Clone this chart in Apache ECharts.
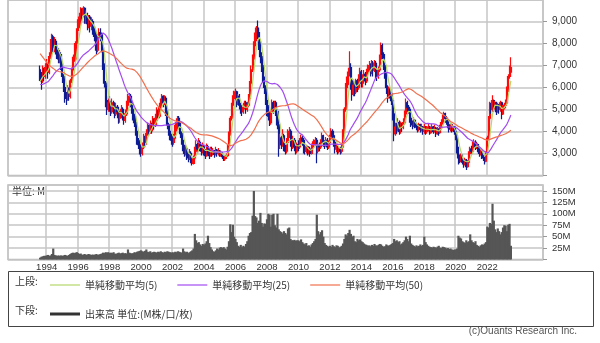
<!DOCTYPE html>
<html><head><meta charset="utf-8">
<script src="https://cdn.jsdelivr.net/npm/echarts@6/dist/echarts.min.js"></script>
<style>html,body{margin:0;padding:0;background:#fff}#c{width:600px;height:343px}</style>
</head><body><div id="c"></div>
<script>
// Monthly candles, Aug 1993 .. Jul 2023 : [open, close, low, high]
const candles = [
// 1993 Aug-Dec
[6800,6600,6300,7000],[6600,6300,5900,6700],[6300,6800,6200,7000],[6800,6500,6300,6900],[6500,6900,6400,7100],
// 1994
[6900,7000,6700,7300],[7000,6700,6400,7100],[6700,7400,6600,7600],[7400,8000,7300,8200],[8000,8300,7800,8450],[8300,7800,7600,8400],
[7800,8100,7600,8300],[8100,7700,7500,8200],[7700,7600,7300,7900],[7600,7300,7100,7800],[7300,7500,7100,7700],[7500,7000,6800,7600],
// 1995
[7000,6500,6200,7100],[6500,6000,5800,6600],[6000,5600,5300,6100],[5600,5500,5200,5800],[5500,5900,5400,6100],[5900,5600,5400,6000],
[5600,6300,5500,6400],[6300,6800,6200,6900],[6800,7200,6700,7400],[7200,7300,6900,7500],[7300,8000,7200,8100],[8000,8600,7900,8700],
// 1996
[8600,8800,8400,9100],[8800,9200,8700,9400],[9200,9500,9000,9650],[9500,9300,9000,9600],[9300,9600,9200,9700],[9600,9100,8900,9650],
[9100,9300,8900,9500],[9300,8900,8600,9400],[8900,9200,8700,9300],[9200,8800,8500,9300],[8800,9000,8600,9200],[9000,8700,8400,9100],
// 1997
[8700,8600,8300,8900],[8600,8400,8100,8800],[8400,7700,7500,8500],[7700,8300,7600,8400],[8300,8500,8100,8700],[8500,8400,8100,8700],
[8400,7800,7600,8500],[7800,7000,6800,7900],[7000,6200,6000,7100],[6200,5400,5100,6300],[5400,5000,4750,5600],[5000,5300,4900,5500],
// 1998
[5300,5200,4900,5600],[5200,4900,4700,5400],[4900,5300,4800,5500],[5300,5000,4800,5400],[5000,4800,4600,5100],[4800,5100,4700,5300],
[5100,4900,4600,5200],[4900,4600,4350,5000],[4600,4700,4400,4900],[4700,5000,4600,5200],[5000,4700,4500,5100],[4700,4500,4300,4800],
// 1999
[4500,4800,4400,5000],[4800,5200,4700,5400],[5200,5500,5100,5700],[5500,5600,5300,5750],[5600,5300,5100,5700],[5300,5000,4800,5400],
[5000,4700,4500,5100],[4700,4400,4200,4800],[4400,4000,3800,4500],[4000,3600,3400,4100],[3600,3400,3200,3700],[3400,3100,2950,3500],
// 2000
[3100,3000,2850,3300],[3000,3300,2900,3500],[3300,3700,3200,3900],[3700,3500,3300,3800],[3500,3900,3400,4100],[3900,4200,3800,4400],
[4200,4000,3800,4300],[4000,4300,3900,4500],[4300,4100,3900,4400],[4100,4500,4000,4700],[4500,4300,4100,4600],[4300,4600,4200,4800],
// 2001
[4600,4900,4500,5100],[4900,4700,4500,5000],[4700,5100,4600,5300],[5100,5400,5000,5500],[5400,5600,5300,5700],[5600,5300,5100,5650],
[5300,5500,5200,5650],[5500,4900,4700,5600],[4900,4300,4100,5000],[4300,4000,3800,4400],[4000,3800,3600,4100],[3800,3600,3400,3900],
// 2002
[3600,3500,3300,3800],[3500,3700,3400,3900],[3700,4100,3600,4300],[4100,4400,4000,4600],[4400,4600,4300,4700],[4600,4300,4100,4700],
[4300,3900,3700,4400],[3900,3600,3400,4000],[3600,3300,3100,3700],[3300,3000,2850,3400],[3000,3200,2900,3400],[3200,2900,2700,3300],
// 2003
[2900,2800,2600,3000],[2800,3000,2700,3200],[3000,2700,2550,3100],[2700,2550,2450,2800],[2550,2800,2500,2900],[2800,3100,2700,3300],
[3100,3400,3000,3600],[3400,3200,3000,3500],[3200,3500,3100,3700],[3500,3300,3100,3600],[3300,3100,2900,3400],[3100,3300,3000,3500],
// 2004
[3300,3100,2900,3400],[3100,2900,2750,3200],[2900,3300,2850,3450],[3300,3100,2950,3400],[3100,2900,2750,3200],[2900,3200,2850,3300],
[3200,3000,2850,3300],[3000,3100,2900,3250],[3100,2950,2800,3150],[2950,3150,2900,3300],[3150,3000,2850,3200],[3000,3100,2900,3250],
// 2005
[3100,2950,2850,3150],[2950,3000,2850,3100],[3000,2850,2750,3050],[2850,2750,2650,2900],[2750,2800,2650,2900],[2800,2900,2750,3000],
[2900,3300,2850,3400],[3300,3900,3250,4000],[3900,4600,3800,4700],[4600,5200,4500,5300],[5200,5500,5000,5650],[5500,5700,5300,5850],
// 2006
[5700,5800,5400,5950],[5800,5300,5100,5850],[5300,5600,5200,5700],[5600,5200,5000,5700],[5200,5000,4800,5300],[5000,4900,4700,5100],
[4900,5100,4800,5300],[5100,5300,5000,5400],[5300,5000,4800,5400],[5000,5200,4900,5350],[5200,5500,5100,5700],[5500,6200,5400,6300],
// 2007
[6200,6800,6100,7000],[6800,7300,6700,7500],[7300,7900,7100,8100],[7900,8300,7700,8500],[8300,8700,8100,8800],[8700,8500,8200,9050],
[8500,8000,7700,8700],[8000,7400,7100,8100],[7400,7000,6700,7600],[7000,6400,6200,7100],[6400,6000,5700,6500],[6000,5400,5200,6100],
// 2008
[5400,5000,4700,5500],[5000,4700,4500,5200],[4700,4400,4250,4900],[4400,4900,4300,5000],[4900,5300,4800,5450],[5300,5000,4800,5400],
[5000,5300,4900,5400],[5300,4900,4700,5400],[4900,4300,4100,5000],[4300,3400,2850,4400],[3400,3700,3200,3900],[3700,3400,3200,3800],
// 2009
[3400,3800,3300,4100],[3800,3300,3100,3900],[3300,3100,2950,3400],[3100,3500,3000,3700],[3500,3900,3400,4100],[3900,4000,3700,4200],
[4000,3500,3300,4100],[3500,3300,3100,3600],[3300,3600,3200,3800],[3600,3300,3100,3700],[3300,3100,2950,3400],[3100,3400,3000,3500],
// 2010
[3400,3300,3100,3600],[3300,3500,3200,3700],[3500,3700,3400,3850],[3700,3600,3350,3800],[3600,3200,3000,3700],[3200,3100,2950,3300],
[3100,3300,3000,3400],[3300,3100,2900,3350],[3100,3200,2950,3300],[3200,3000,2850,3300],[3000,3300,2950,3450],[3300,3400,3200,3550],
// 2011
[3400,3500,3300,3650],[3500,3600,3350,3750],[3600,3100,2550,3700],[3100,3400,3000,3500],[3400,3300,3100,3500],[3300,3500,3200,3650],
[3500,3800,3400,3950],[3800,3500,3300,3850],[3500,3400,3200,3600],[3400,3600,3300,3750],[3600,3300,3150,3700],[3300,3500,3200,3600],
// 2012
[3500,3700,3400,3850],[3700,4000,3600,4150],[4000,3800,3600,4100],[3800,3500,3300,3850],[3500,3200,3000,3550],[3200,3300,3050,3450],
[3300,3100,2950,3350],[3100,3200,3000,3300],[3200,3100,2950,3300],[3100,3300,3000,3450],[3300,4000,3250,4100],[4000,5000,3900,5100],
// 2013
[5000,6000,4900,6200],[6000,6300,5800,6500],[6300,6700,6100,6900],[6700,6900,6500,7650],[6900,6300,5900,7100],[6300,5700,5400,6400],
[5700,6100,5600,6300],[6100,5800,5600,6200],[5800,6300,5700,6400],[6300,6000,5800,6400],[6000,6500,5900,6600],[6500,6700,6300,6900],
// 2014
[6700,6200,6000,6800],[6200,6400,6000,6600],[6400,6600,6300,6800],[6600,6300,6100,6700],[6300,6700,6200,6850],[6700,6900,6600,7050],
[6900,7000,6700,7200],[7000,6700,6500,7100],[6700,7100,6600,7250],[7100,6800,6500,7200],[6800,7100,6700,7250],[7100,6600,6400,7200],
// 2015
[6600,6500,6300,6800],[6500,6800,6400,6950],[6800,7300,6700,7500],[7300,7900,7200,8050],[7900,7500,7300,8000],[7500,7000,6800,7600],
[7000,6600,6400,7100],[6600,6000,5700,6700],[6000,5600,5300,6100],[5600,5900,5500,6050],[5900,5700,5500,6000],[5700,5400,5200,5800],
// 2016
[5400,4800,4500,5500],[4800,3900,3550,4900],[3900,4200,3800,4400],[4200,4100,3900,4400],[4100,4400,4000,4600],[4400,4000,3850,4500],
[4000,4300,3900,4450],[4300,4200,4000,4400],[4200,4400,4100,4600],[4400,4800,4300,4950],[4800,5300,4700,5500],[5300,5100,4900,5400],
// 2017
[5100,5000,4800,5200],[5000,4600,4400,5100],[4600,4400,4200,4700],[4400,4300,4100,4500],[4300,4500,4200,4650],[4500,4300,4150,4550],
[4300,4200,4050,4400],[4200,4100,3950,4300],[4100,4300,4000,4400],[4300,4100,3950,4350],[4100,4200,4000,4350],[4200,4000,3850,4250],
// 2018
[4000,4200,3900,4350],[4200,4000,3850,4250],[4000,4100,3900,4250],[4100,4200,4000,4350],[4200,3950,3850,4250],[3950,4100,3900,4200],
[4100,4200,4000,4350],[4200,4000,3900,4250],[4000,4150,3950,4300],[4150,3900,3750,4200],[3900,4100,3850,4200],[4100,3950,3800,4150],
// 2019
[3950,4200,3900,4300],[4200,4400,4100,4550],[4400,4600,4300,4750],[4600,4800,4500,4900],[4800,4600,4400,4850],[4600,4500,4300,4700],
[4500,4300,4150,4550],[4300,4100,3950,4350],[4100,4300,4000,4400],[4300,4100,3950,4350],[4100,4200,4000,4300],[4200,4000,3850,4250],
// 2020
[4000,3800,3600,4100],[3800,3200,3000,3900],[3200,2800,2500,3300],[2800,2700,2550,2950],[2700,2900,2600,3000],[2900,2600,2500,2950],
[2600,2500,2350,2700],[2500,2700,2450,2800],[2700,2400,2250,2750],[2400,2600,2350,2700],[2600,3000,2550,3100],[3000,3200,2900,3300],
// 2021
[3200,3100,2950,3350],[3100,3400,3000,3550],[3400,3500,3300,3650],[3500,3300,3150,3600],[3300,3400,3200,3500],[3400,3200,3050,3450],
[3200,3000,2850,3250],[3000,3100,2900,3200],[3100,2900,2750,3150],[2900,2800,2650,2950],[2800,2650,2500,2850],[2650,3000,2600,3100],
// 2022
[3000,3700,2950,3800],[3700,4600,3600,4700],[4600,5200,4500,5350],[5200,5000,4800,5300],[5000,5400,4900,5650],[5400,5100,4900,5450],
[5100,5300,5000,5400],[5300,4900,4750,5350],[4900,5200,4850,5300],[5200,5000,4800,5250],[5000,5300,4900,5400],[5300,4800,4550,5350],
// 2023 Jan-Jul
[4800,5100,4750,5200],[5100,5200,5000,5300],[5200,5300,5050,5450],[5300,5900,5250,6050],[5900,6500,5800,6600],[6500,6900,6400,7000],
[6700,6900,6500,7380]
];

// Closes of the 49 months before Aug 1993 (only used to seed the moving averages)
const priorCloses = [
10200,10600,10900,10500,10800,10300,10700,10400,10100,10600,10500,10200,
8800,8200,7600,7900,7400,7200,7500,7300,7000,7600,7200,7100,6800,
6600,6300,6100,5900,6200,6000,5800,6100,6300,6000,5700,5900,
6200,6400,6100,5800,6000,6200,6300,6100,5900,6200,6400,6300
];

// Monthly volume (millions), Aug 1993 .. Jul 2023
const volumes = [
4,6,7,8,8,
9,10,8,9,12,24,10,9,8,9,8,9,
8,9,10,9,8,10,12,14,15,14,15,16,
14,12,13,10,11,12,10,11,12,11,10,11,
10,11,12,10,11,12,13,15,14,16,15,16,
14,15,14,16,13,12,14,15,13,14,15,13,
14,13,22,15,14,13,14,16,15,17,18,19,
20,18,17,19,22,17,16,18,15,16,17,16,
15,17,16,18,16,15,17,16,18,17,16,15,
16,15,17,16,18,17,16,15,24,18,16,17,
14,16,18,20,24,56,42,36,38,33,30,34,
32,35,40,52,36,27,22,18,17,20,24,22,
26,27,25,27,24,22,28,40,77,60,76,50,
45,38,30,28,32,27,30,28,34,40,52,58,
60,96,150,95,92,80,85,102,80,72,79,78,
88,100,98,72,98,100,75,70,100,66,62,60,
57,62,58,55,68,70,45,42,42,43,41,42,
42,40,44,38,35,33,36,30,31,28,33,36,
40,45,98,62,55,60,64,50,36,32,30,28,
30,28,32,29,27,31,30,26,28,30,35,45,
55,52,58,65,56,50,52,40,38,45,42,44,
40,38,35,33,32,30,31,29,32,30,34,31,
30,32,34,33,30,28,29,33,31,30,32,34,
36,45,40,42,38,40,33,35,38,42,50,45,
40,52,35,32,30,28,31,29,30,33,30,32,
50,38,33,30,28,27,26,28,27,25,28,30,
26,25,28,27,26,24,25,23,24,22,21,22,
22,24,52,48,46,40,38,36,42,38,40,55,
42,38,36,40,32,30,28,31,33,32,35,38,
72,70,80,78,122,85,66,60,68,62,55,60,
70,75,74,62,76,78,30
];

const yearTicks = ['1994','1996','1998','2000','2002','2004','2006','2008','2010','2012','2014','2016','2018','2020','2022'];
const priceTicks = [3000,4000,5000,6000,7000,8000,9000];
const volumeTicks = [25,50,75,100,125,150];
const maPeriods = [5,25,50];
const maNames = ['単純移動平均(5)','単純移動平均(25)','単純移動平均(50)'];
const volumeName = '出来高 単位:(M株/口/枚)';

// Category axis: Aug 1991 .. Jul 2025 (data sits in Aug 1993 .. Jul 2023)
const categories = [];
for (let k = 0; k < 408; k++) {
  const y = 1991 + Math.floor((7 + k) / 12), m = (7 + k) % 12 + 1;
  categories.push(y + '-' + (m < 10 ? '0' + m : m));
}
const OFFSET = categories.indexOf('1993-08');
const isYearTick = (idx, v) => { const val = v || categories[idx]; return val.slice(5) === '01' && yearTicks.indexOf(val.slice(0,4)) >= 0; };

const allCloses = priorCloses.concat(candles.map(c => c[1]));
const P = priorCloses.length;
function sma(n) {
  return candles.map((c, i) => {
    let s = 0; for (let j = P + i - n + 1; j <= P + i; j++) s += allCloses[j];
    return [i + OFFSET, Math.round(s / n)];
  });
}

const chart = echarts.init(document.getElementById('c'), null, {renderer: 'canvas'});
const gridLine = {show: true, lineStyle: {color: '#c6c6c6', width: 1.5}};
const fontF = '"Liberation Sans", Arial, sans-serif';
const cjkF = '"Noto Sans CJK JP", sans-serif';

chart.setOption({
  animation: false,
  backgroundColor: '#ffffff',
  grid: [
    {left: 8, top: -1, width: 535, height: 176.4, show: true, borderColor: '#b8b8b8', borderWidth: 1.5},
    {left: 8, top: 185, width: 535, height: 74.5, show: true, borderColor: '#b8b8b8', borderWidth: 1.5}
  ],
  xAxis: [
    {type: 'category', gridIndex: 0, data: categories, boundaryGap: true,
     axisLine: {show: false}, axisTick: {show: false}, axisLabel: {show: false},
     splitLine: Object.assign({interval: isYearTick}, gridLine)},
    {type: 'category', gridIndex: 1, data: categories, boundaryGap: true,
     axisLine: {show: false}, axisTick: {show: false},
     axisLabel: {interval: isYearTick, formatter: v => v.slice(0,4), fontSize: 9.5, color: '#333', margin: 3, fontFamily: fontF},
     splitLine: Object.assign({interval: isYearTick}, gridLine)}
  ],
  yAxis: [
    {type: 'value', gridIndex: 0, position: 'right', min: 2000, max: 9980, interval: 1000, scale: false,
     axisLine: {show: false}, axisTick: {show: true, length: 4, lineStyle: {color: '#999'}},
     axisLabel: {margin: 9, fontSize: 10, color: '#333', fontFamily: fontF, showMaxLabel: false,
       formatter: v => priceTicks.indexOf(v) >= 0 ? v.toLocaleString('en-US') : ''},
     splitLine: gridLine},
    {type: 'value', gridIndex: 1, position: 'right', min: 0, max: 163, interval: 25,
     axisLine: {show: false}, axisTick: {show: true, length: 4, lineStyle: {color: '#999'}},
     axisLabel: {margin: 9, fontSize: 9.5, color: '#333', fontFamily: fontF, showMaxLabel: false,
       formatter: v => volumeTicks.indexOf(v) >= 0 ? v + 'M' : ''},
     splitLine: gridLine}
  ],
  legend: [
    {left: 45, top: 275, itemWidth: 30, itemHeight: 10, itemGap: 20, icon: 'path://M0,4.4H30V5.6H0Z',
     textStyle: {fontSize: 10, color: '#333', fontFamily: cjkF}, data: maNames},
    {left: 45, top: 304, itemWidth: 30, itemHeight: 10, icon: 'path://M0,3.5H30V6.5H0Z',
     textStyle: {fontSize: 10, color: '#333', fontFamily: cjkF},
     data: [{name: volumeName, itemStyle: {color: '#333'}}]}
  ],
  graphic: [
    {type: 'rect', shape: {x: 8.5, y: 271.5, width: 585, height: 55}, style: {fill: 'none', stroke: '#444', lineWidth: 1}},
    {type: 'text', x: 15, y: 276, style: {text: '上段:', fill: '#333', font: '10px ' + cjkF}},
    {type: 'text', x: 15, y: 305, style: {text: '下段:', fill: '#333', font: '10px ' + cjkF}},
    {type: 'text', x: 12, y: 186, style: {text: '単位: M', fill: '#333', font: '10px ' + cjkF}},
    {type: 'text', x: 577, y: 326, style: {text: '(c)Ouants Research Inc.', fill: '#555', font: '10px ' + fontF, textAlign: 'right'}}
  ],
  series: [
    {type: 'candlestick', name: 'price', xAxisIndex: 0, yAxisIndex: 0, barWidth: 1.6,
     data: candles.map((c, i) => [i + OFFSET, c[0], c[1], c[2], c[3]]),
     encode: {x: 0, y: [1, 2, 3, 4]},
     itemStyle: {color: '#ff0a0a', color0: '#0c1c96', borderColor: '#ff0a0a', borderColor0: '#0c1c96', borderWidth: 1.2}},
    {type: 'line', name: maNames[0], xAxisIndex: 0, yAxisIndex: 0, data: sma(maPeriods[0]), symbol: 'none',
     lineStyle: {color: '#b5d86a', width: 1.2}, itemStyle: {color: '#b5d86a'}},
    {type: 'line', name: maNames[1], xAxisIndex: 0, yAxisIndex: 0, data: sma(maPeriods[1]), symbol: 'none',
     lineStyle: {color: '#a24cf0', width: 1.2}, itemStyle: {color: '#a24cf0'}},
    {type: 'line', name: maNames[2], xAxisIndex: 0, yAxisIndex: 0, data: sma(maPeriods[2]), symbol: 'none',
     lineStyle: {color: '#f0704e', width: 1.2}, itemStyle: {color: '#f0704e'}},
    {type: 'bar', name: volumeName, xAxisIndex: 1, yAxisIndex: 1, barWidth: 2.2,
     data: volumes.map((v, i) => [i + OFFSET, v]), itemStyle: {color: '#565656'}}
  ]
});
</script></body></html>
